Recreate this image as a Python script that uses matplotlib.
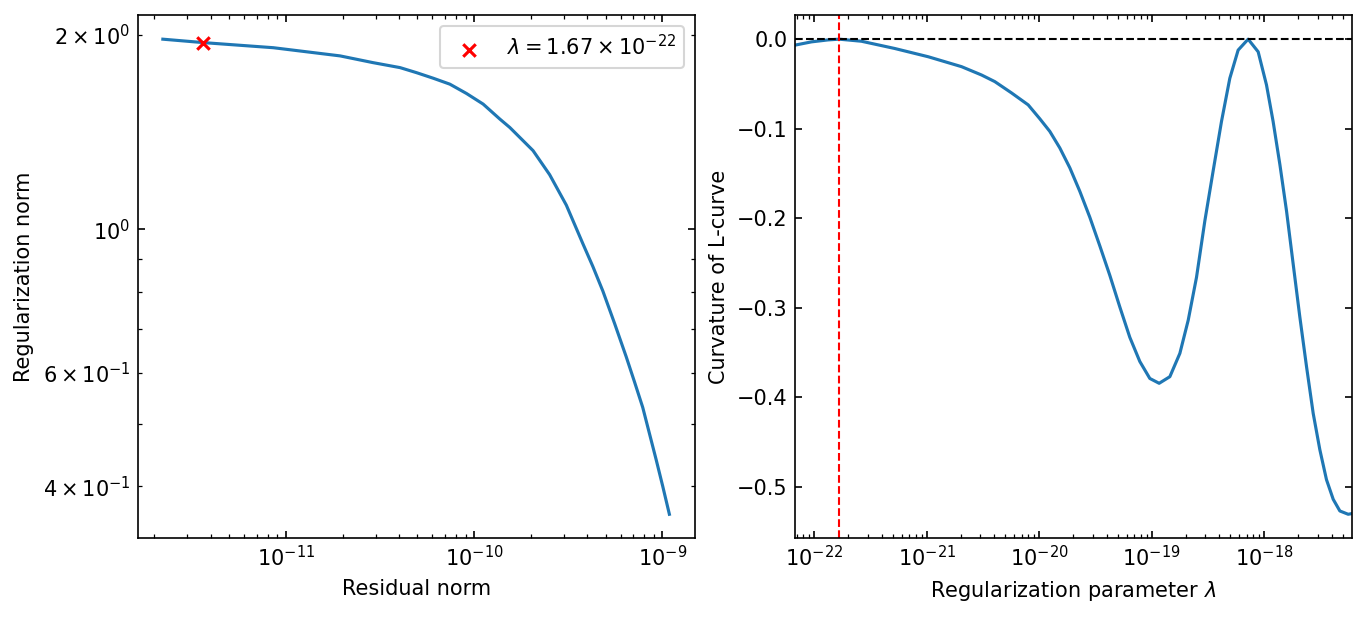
import matplotlib
matplotlib.use("Agg")
import matplotlib.pyplot as plt
from matplotlib.ticker import NullFormatter

# ---- L-curve (left) ----
residual_norm = [2.22e-12, 3.65e-12, 8.57e-12, 1.94e-11, 2.90e-11, 4.04e-11, 4.95e-11,
                 6.06e-11, 7.43e-11, 9.11e-11, 1.116e-10, 1.368e-10, 1.546e-10, 1.818e-10,
                 2.055e-10, 2.518e-10, 3.088e-10, 3.780e-10, 4.27e-10, 4.83e-10, 5.57e-10,
                 6.42e-10, 7.10e-10, 7.86e-10, 9.26e-10, 1.004e-09, 1.089e-09]
regularization_norm = [1.970, 1.946, 1.911, 1.856, 1.812, 1.780, 1.748,
                       1.714, 1.678, 1.623, 1.563, 1.482, 1.438, 1.372,
                       1.324, 1.215, 1.090, 0.950, 0.876, 0.802, 0.715,
                       0.635, 0.581, 0.530, 0.440, 0.400, 0.362]
best_lambda = 1.67e-22
best_residual = 3.65e-12
best_regnorm = 1.946
left_xticks = [1e-11, 1e-10, 1e-9]

# ---- Curvature of the L-curve (right) ----
lambdas = [6.72e-23, 9.46e-23, 1.33e-22, 1.67e-22, 2.63e-22, 5.20e-22, 1.03e-21,
           2.04e-21, 3.07e-21, 4.03e-21, 5.67e-21, 7.98e-21, 1.012e-20, 1.242e-20,
           1.524e-20, 1.871e-20, 2.296e-20, 2.818e-20, 3.459e-20, 4.246e-20, 5.200e-20,
           6.383e-20, 7.834e-20, 9.616e-20, 1.164e-19, 1.449e-19, 1.778e-19, 2.109e-19,
           2.500e-19, 2.965e-19, 3.516e-19, 4.169e-19, 4.943e-19, 5.861e-19, 7.194e-19,
           8.831e-19, 1.047e-18, 1.199e-18, 1.377e-18, 1.578e-18, 1.807e-18, 2.070e-18,
           2.377e-18, 2.723e-18, 3.119e-18, 3.573e-18, 4.102e-18, 4.699e-18, 5.572e-18,
           5.97e-18]
curvature = [-0.0067, -0.0030, -0.0008, 0.0, -0.0023, -0.0104, -0.0196,
             -0.0307, -0.0400, -0.0474, -0.0600, -0.0734, -0.0889, -0.1030,
             -0.1215, -0.1437, -0.1700, -0.1990, -0.2310, -0.2640, -0.2990,
             -0.3330, -0.3600, -0.3790, -0.3844, -0.3770, -0.3510, -0.3140,
             -0.2660, -0.2030, -0.1470, -0.0919, -0.0437, -0.0122, 0.0,
             -0.0141, -0.0511, -0.0919, -0.1400, -0.1920, -0.2510, -0.3100,
             -0.3660, -0.4180, -0.4585, -0.4920, -0.5140, -0.5270, -0.5307,
             -0.5300]
right_xticks = [1e-22, 1e-21, 1e-20, 1e-19, 1e-18]

fig = plt.figure(figsize=(1367/150, 617/150), dpi=150)
ax1 = fig.add_axes([0.1006, 0.128, 0.4076, 0.847])
ax2 = fig.add_axes([0.5814, 0.128, 0.4073, 0.847])

ax1.plot(residual_norm, regularization_norm, color='#1f77b4', lw=1.5)
ax1.scatter([best_residual], [best_regnorm], color='red', marker='x', s=36, zorder=3,
            label=r'$\lambda = 1.67 \times 10^{-22}$')
ax1.set_xscale('log')
ax1.set_yscale('log')
ax1.set_xticks(left_xticks)
ax1.set_xlabel('Residual norm')
ax1.set_ylabel('Regularization norm')
ax1.legend(loc='upper right')

ax2.plot(lambdas, curvature, color='#1f77b4', lw=1.5)
ax2.axhline(0, color='k', ls='--', lw=1)
ax2.axvline(best_lambda, color='r', ls='--', lw=1)
ax2.set_xscale('log')
ax2.set_xticks(right_xticks)
ax2.set_xlim(lambdas[0], lambdas[-1])
ax2.set_xlabel(r'Regularization parameter $\lambda$')
ax2.set_ylabel('Curvature of L-curve')

for ax in (ax1, ax2):
    ax.tick_params(which='both', direction='in', top=True, right=True)
    ax.xaxis.set_minor_formatter(NullFormatter())

fig.savefig('out.png', dpi=150)
